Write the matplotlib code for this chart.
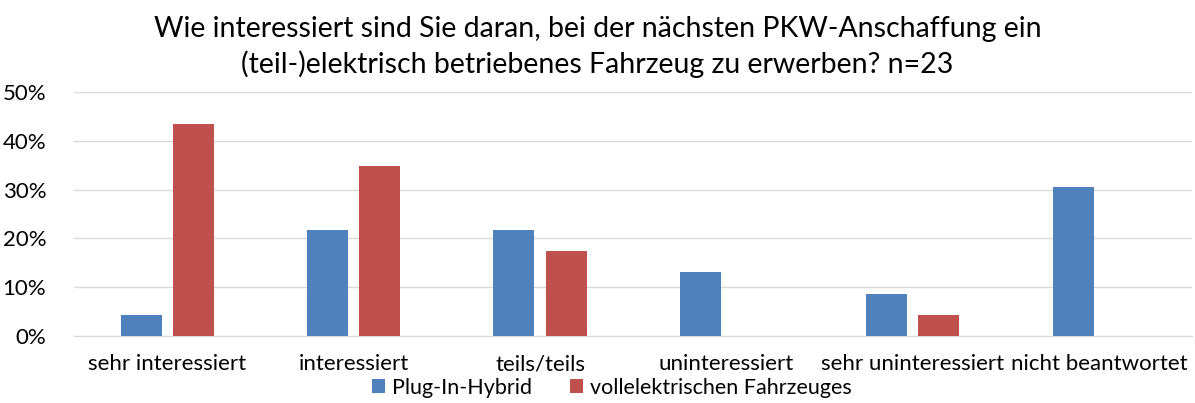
import matplotlib.pyplot as plt
import numpy as np
from matplotlib.ticker import PercentFormatter

categories = ["sehr interessiert", "interessiert", "teils/teils", "uninteressiert",
              "sehr uninteressiert", "nicht beantwortet"]
n = 23
plugin_counts = [1, 5, 5, 3, 2, 7]
electric_counts = [10, 8, 4, 0, 1, 0]

plugin = np.array(plugin_counts) / n
electric = np.array(electric_counts) / n

plt.rcParams['font.family'] = ['Lato', 'DejaVu Sans']

fig = plt.figure(figsize=(11.95, 4.03), dpi=100)
ax = fig.add_axes([0.0619, 0.166, 0.936, 0.606])

x = np.arange(len(categories))
w = 0.22
ax.bar(x - 0.14, plugin, w, color="#4F81BD", label="Plug-In-Hybrid", zorder=3)
ax.bar(x + 0.14, electric, w, color="#C0504D", label="vollelektrischen Fahrzeuges", zorder=3)

ax.set_xlim(-0.5, len(categories) - 0.5)
ax.set_ylim(0, 0.5)
ax.set_yticks(np.arange(0, 0.51, 0.1))
ax.yaxis.set_major_formatter(PercentFormatter(1.0, decimals=0))
ax.set_xticks(x)
ax.set_xticklabels(categories)
ax.tick_params(axis="x", length=0, labelsize=16, pad=13)
ax.tick_params(axis="y", length=0, labelsize=16, pad=20)
ax.grid(axis="y", color="#D9D9D9", linewidth=1, zorder=0)
for s in ["top", "right", "left"]:
    ax.spines[s].set_visible(False)
ax.spines["bottom"].set_color("#D9D9D9")

fig.suptitle("Wie interessiert sind Sie daran, bei der nächsten PKW-Anschaffung ein\n"
             "(teil-)elektrisch betriebenes Fahrzeug zu erwerben? n=23",
             fontsize=20.5, y=0.96, linespacing=1.35)

fig.legend(loc="lower center", bbox_to_anchor=(0.512, -0.035), ncol=2, frameon=False,
           fontsize=15.5, handlelength=0.6, handleheight=0.6, handletextpad=0.3,
           columnspacing=1.8)

fig.savefig("out.png", dpi=100)
